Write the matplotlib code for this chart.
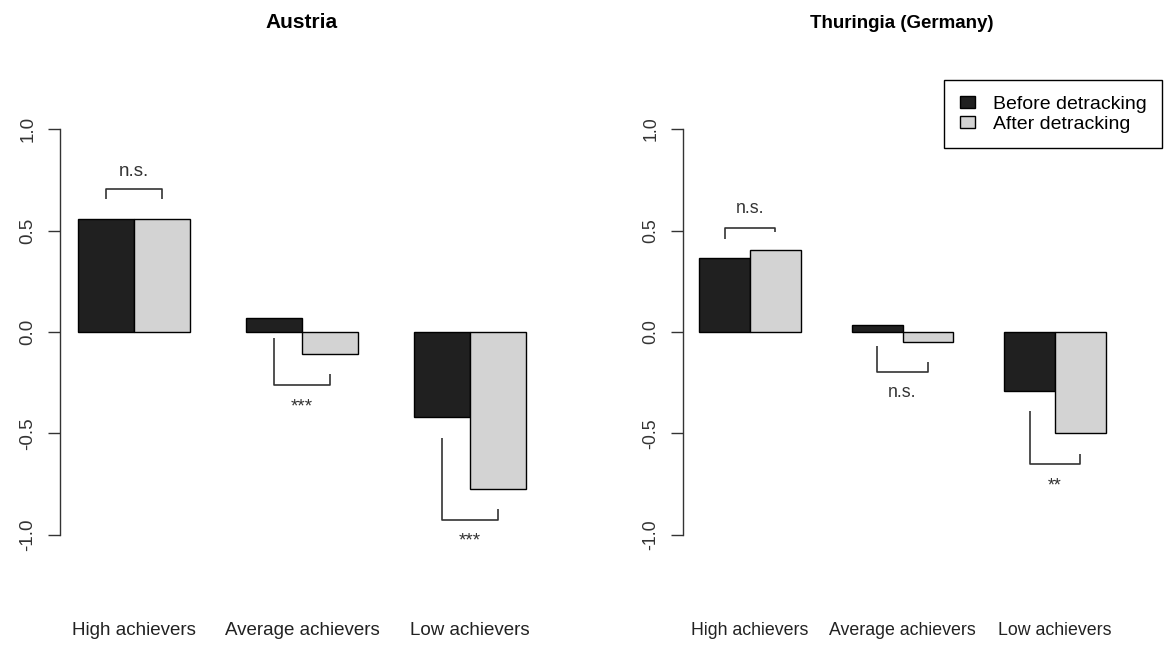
import numpy as np
import matplotlib
matplotlib.use("Agg")
import matplotlib.pyplot as plt
from matplotlib.patches import Patch

plt.rcParams["font.family"] = ["Liberation Sans", "DejaVu Sans"]
plt.rcParams["axes.unicode_minus"] = False

# ------------------------------
# Data
# ------------------------------
groups = ["High achievers", "Average achievers", "Low achievers"]
series_names = ["Before detracking", "After detracking"]

austria_before = [0.557, 0.07, -0.42]
austria_after = [0.557, -0.11, -0.775]

thuringia_before = [0.364, 0.034, -0.29]
thuringia_after = [0.404, -0.05, -0.50]

# significance brackets: left leg end, bar line level, right leg end
austria_left_leg = [0.655, -0.03, -0.52]
austria_line = [0.705, -0.26, -0.925]
austria_right_leg = [0.655, -0.205, -0.87]
austria_sig = ["n.s.", "***", "***"]
austria_sig_y = [0.79, -0.37, -1.03]

thuringia_left_leg = [0.46, -0.07, -0.39]
thuringia_line = [0.51, -0.195, -0.65]
thuringia_right_leg = [0.495, -0.15, -0.60]
thuringia_sig = ["n.s.", "n.s.", "**"]
thuringia_sig_y = [0.61, -0.30, -0.76]

y_ticks = [-1.0, -0.5, 0.0, 0.5, 1.0]
y_tick_labels = ["-1.0", "-0.5", "0.0", "0.5", "1.0"]

DARK = "#202020"
LIGHT = "#d3d3d3"
LINE = "#333333"

W, H = 1175, 650


def draw_panel(ax, before, after, left_leg, line, right_leg, sig, sig_y, fs):
    g = np.arange(len(groups))
    x_before = 1.5 + 3 * g
    x_after = 2.5 + 3 * g
    ax.bar(x_before, before, width=1.0, color=DARK, edgecolor="black",
           linewidth=1.0)
    ax.bar(x_after, after, width=1.0, color=LIGHT, edgecolor="black",
           linewidth=1.0)

    # significance brackets
    for i in range(len(groups)):
        ax.plot([x_before[i], x_before[i], x_after[i], x_after[i]],
                [left_leg[i], line[i], line[i], right_leg[i]],
                color=LINE, linewidth=1.2, solid_capstyle="butt")
        ax.text(2.0 + 3 * i, sig_y[i], sig[i], ha="center", va="center",
                fontsize=fs, color="#333333")

    ax.set_xlim(0.68, 9.32)
    ax.set_ylim(-1.08, 1.08)

    for side in ["top", "right", "bottom"]:
        ax.spines[side].set_visible(False)
    ax.spines["left"].set_bounds(-1.0, 1.0)
    ax.spines["left"].set_color(LINE)
    ax.spines["left"].set_linewidth(1.0)

    ax.set_yticks(y_ticks)
    ax.set_yticklabels(y_tick_labels, rotation=90, va="center",
                       fontsize=fs, color="#333333")
    ax.tick_params(axis="y", length=9, width=1.0, color=LINE, pad=8)

    ax.set_xticks(2.0 + 3 * g)
    ax.set_xticklabels(groups, fontsize=fs, color="#222222")
    ax.tick_params(axis="x", length=0, pad=51)


fig = plt.figure(figsize=(W / 100, H / 100), dpi=100)

ax_bottom = (H - 551.2) / H
ax_height = 438.4 / H
ax1 = fig.add_axes([60 / W, ax_bottom, 484 / W, ax_height])
ax2 = fig.add_axes([683 / W, ax_bottom, 439 / W, ax_height])

draw_panel(ax1, austria_before, austria_after, austria_left_leg,
           austria_line, austria_right_leg, austria_sig, austria_sig_y, 13.5)
draw_panel(ax2, thuringia_before, thuringia_after, thuringia_left_leg,
           thuringia_line, thuringia_right_leg, thuringia_sig,
           thuringia_sig_y, 12.8)

fig.text(302 / W, 1 - 28 / H, "Austria", ha="center", va="baseline",
         fontsize=15, fontweight="bold")
fig.text(902 / W, 1 - 28 / H, "Thuringia (Germany)", ha="center",
         va="baseline", fontsize=13.5, fontweight="bold")

handles = [Patch(facecolor=DARK, edgecolor="black"),
           Patch(facecolor=LIGHT, edgecolor="black")]
leg = fig.legend(handles, series_names, loc="upper left",
                 bbox_to_anchor=(944 / W, 1 - 80 / H), borderaxespad=0,
                 frameon=True, fancybox=False, framealpha=1,
                 edgecolor="black", fontsize=14, handlelength=0.8,
                 handleheight=0.6, handletextpad=0.9, borderpad=0.8,
                 labelspacing=0.15)
leg.get_frame().set_linewidth(1.0)

fig.savefig("out.png", dpi=100)
